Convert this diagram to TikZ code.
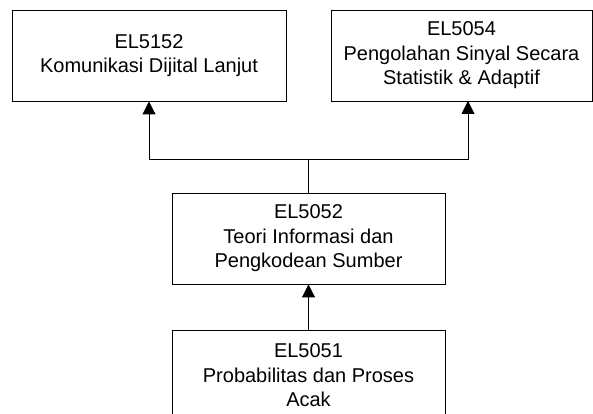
\documentclass[tikz,border=0pt]{standalone}
\usepackage{fontspec}
\setmainfont{Liberation Sans}
\usetikzlibrary{arrows.meta}
\begin{document}
\begin{tikzpicture}[x=1pt,y=1pt,
  course/.style={draw=black,line width=0.9pt,fill=white,inner sep=0pt,
    minimum height=91pt,align=center,
    font=\fontsize{20}{24.5}\selectfont},
  link/.style={draw=black,line width=0.9pt},
  arrowlink/.style={link,-{Triangle[length=13pt,width=13pt]}}]
  \useasboundingbox (0,0) rectangle (593,414);
  \fill[white] (0,0) rectangle (593,414);
  \clip (0,0) rectangle (593,414);

  % course boxes
  \node[course,minimum width=274pt] (k1) at (149,358.5)
    {EL5152\\Komunikasi Dijital Lanjut};
  \node[course,minimum width=261pt] (k2) at (461.5,358.5)
    {EL5054\\Pengolahan Sinyal Secara\\Statistik \& Adaptif};
  \node[course,minimum width=273pt] (k3) at (308.5,175.5)
    {EL5052\\Teori Informasi dan\\Pengkodean Sumber};
  \node[course,minimum width=273pt] (k4) at (308.5,38.5)
    {EL5051\\Probabilitas dan Proses\\Acak};

  % branching connector
  \coordinate (j) at (308.5,255);
  \coordinate (t2) at (468,313);
  \draw[link] (k3.north) -- (j);
  \draw[arrowlink] (j) -| (k1.south);
  \draw[arrowlink] (j) -| (t2);
  \draw[arrowlink] (k4.north) -- (k3.south);
\end{tikzpicture}
\end{document}
